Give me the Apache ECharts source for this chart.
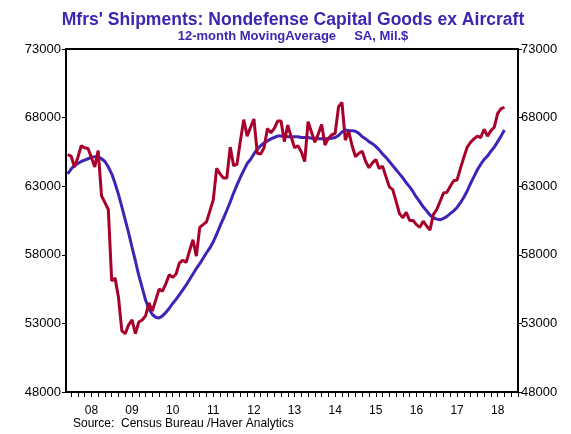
<!DOCTYPE html>
<html><head><meta charset="utf-8">
<script src="https://cdn.jsdelivr.net/npm/echarts@6/dist/echarts.min.js"></script>
<style>html,body{margin:0;padding:0;background:#fff}#c{width:571px;height:434px}</style>
</head><body><div id="c"></div>
<script>
// Monthly data, first point = Dec 2007 (month index -1 relative to Jan 2008)
const firstMonthIndex = -1;
const shipments = [
  65300,
  65200,64400,65100,65950,65800,65750,65100,64400,65600,62300,61800,61300,
  56100,56300,54900,52450,52250,52900,53250,52250,53100,53250,53550,54500,
  53900,54700,55500,55350,55900,56550,56350,56600,57400,57600,57450,58300,
  59100,57900,60000,60200,60400,61200,62000,64300,63900,63600,63600,65850,
  64500,64600,66300,67850,66650,67300,67900,65400,65350,65800,67200,66900,
  67200,67750,67750,66250,67450,66600,65800,65950,65500,64800,67700,66950,
  66200,66800,67500,66000,66500,66750,66850,68800,69100,66350,67000,65950,
  65150,65400,65550,64800,64350,64700,64950,64300,64450,63700,62950,62750,
  61900,61000,60700,61100,60500,60500,60200,60000,60450,60100,59800,60950,
  61300,61900,62500,62550,63000,63400,63450,64300,65100,65850,66200,66450,
  66650,66550,67150,66650,67050,67300,68300,68650,68750
];
const movingAverage = [
  63900,
  64250,64500,64650,64800,64900,65000,65100,65150,65150,65000,64800,64400,
  63900,63200,62400,61500,60550,59600,58550,57550,56500,55600,54700,54050,
  53650,53450,53400,53550,53800,54100,54450,54750,55100,55450,55800,56200,
  56600,57000,57350,57750,58150,58500,58950,59500,60100,60650,61250,61850,
  62500,63100,63650,64150,64650,64950,65350,65700,65950,66150,66300,66450,
  66550,66650,66650,66650,66600,66600,66600,66600,66550,66550,66550,66500,
  66500,66450,66450,66450,66450,66500,66550,66700,66950,67100,67050,67050,
  67000,66850,66600,66450,66250,66100,65900,65650,65350,65100,64800,64500,
  64200,63900,63600,63250,62950,62600,62200,61850,61500,61200,60900,60700,
  60600,60550,60650,60800,61000,61200,61450,61800,62200,62650,63200,63700,
  64200,64600,64950,65200,65550,65850,66250,66650,67100
];
const yearLabels = ['08','09','10','11','12','13','14','15','16','17','18'];
const yMin = 48000, yMax = 73000, yStep = 5000;

const toPairs = arr => arr.map((v, i) => [firstMonthIndex + i, v]);
const tickMonths = [];
for (let m = 0; m <= 132; m += 2) tickMonths.push(m);
const labelMonths = yearLabels.map((_, i) => 6 + 12 * i);

const chart = echarts.init(document.getElementById('c'), null, {renderer: 'canvas'});
const axisLine = {show: true, onZero: false, lineStyle: {color: '#000', width: 2}};
const yAxisCommon = {
  type: 'value', min: yMin, max: yMax, interval: yStep,
  axisLine: axisLine,
  axisTick: {show: true, length: 4, lineStyle: {color: '#000', width: 1}},
  splitLine: {show: false},
  axisLabel: {color: '#000', fontSize: 13, fontFamily: 'Liberation Sans, Arial, sans-serif', formatter: v => String(v)}
};
chart.setOption({
  animation: false,
  backgroundColor: '#fff',
  grid: {left: 66, right: 53, top: 49, bottom: 42, show: true, borderColor: '#000', borderWidth: 2},
  graphic: [
    {type: 'text', x: 293, y: 11, scaleX: 0.975, style: {text: "Mfrs' Shipments: Nondefense Capital Goods ex Aircraft", fill: '#3B27B0', textAlign: 'center', textVerticalAlign: 'top', font: 'bold 18px "Liberation Sans", Arial, sans-serif'}},
    {type: 'text', x: 293, y: 30, style: {text: '12-month MovingAverage     SA, Mil.$', fill: '#3B27B0', textAlign: 'center', textVerticalAlign: 'top', font: 'bold 13px "Liberation Sans", Arial, sans-serif'}},
    {type: 'text', left: 73, top: 418, style: {text: 'Source:  Census Bureau /Haver Analytics', fill: '#000', font: '12px "Liberation Sans", Arial, sans-serif'}}
  ],
  xAxis: {
    type: 'value', min: -1.5, max: 132,
    axisLine: axisLine,
    axisTick: {show: true, length: 5, customValues: tickMonths, lineStyle: {color: '#000', width: 1}},
    splitLine: {show: false},
    axisLabel: {customValues: labelMonths, margin: 13, color: '#000', fontSize: 12, fontFamily: 'Liberation Sans, Arial, sans-serif',
      formatter: v => yearLabels[Math.round((v - 6) / 12)]}
  },
  yAxis: [
    Object.assign({position: 'left'}, yAxisCommon, {axisLabel: Object.assign({}, yAxisCommon.axisLabel, {margin: 5})}),
    Object.assign({position: 'right'}, yAxisCommon, {axisLabel: Object.assign({}, yAxisCommon.axisLabel, {margin: 3})})
  ],
  series: [
    {type: 'line', name: '12-month Moving Average', data: toPairs(movingAverage), showSymbol: false, symbol: 'none',
      lineStyle: {color: '#4022B6', width: 3}, z: 2},
    {type: 'line', name: 'Shipments', data: toPairs(shipments), showSymbol: false, symbol: 'none',
      lineStyle: {color: '#A8002B', width: 3}, z: 3}
  ]
});
</script>
</body></html>
